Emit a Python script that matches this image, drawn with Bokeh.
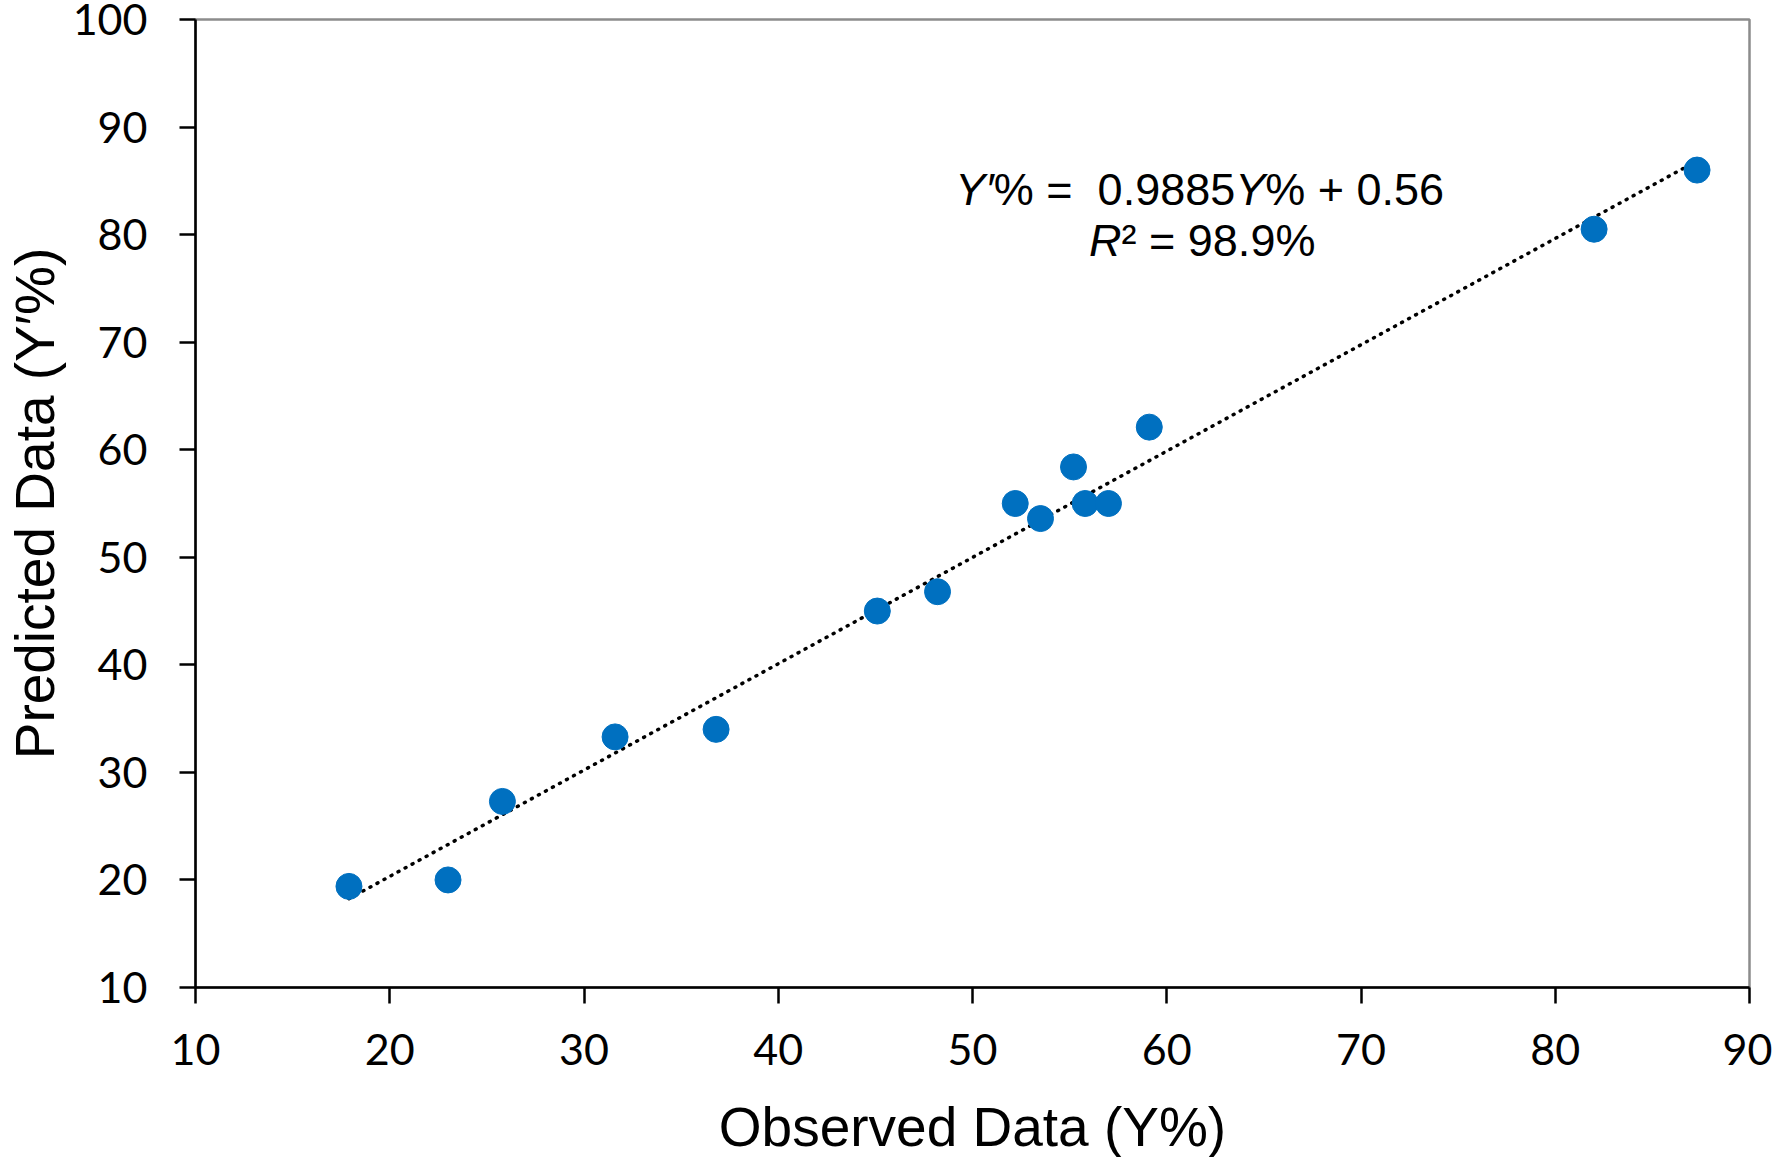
from bokeh.plotting import figure
from bokeh.models import Label, Range1d, FixedTicker, ColumnDataSource
from bokeh.embed import file_html
from bokeh.resources import INLINE

# ---- data ----
observed = [17.9, 23.0, 25.8, 31.6, 36.8, 45.1, 48.2, 52.2, 53.5, 55.2, 55.8, 57.0, 59.1, 82.0, 87.3]
predicted = [19.4, 20.0, 27.3, 33.3, 34.0, 45.0, 46.8, 55.0, 53.6, 58.4, 55.0, 55.0, 62.1, 80.5, 86.0]
fit_slope = 0.9885
fit_intercept = 0.56
x_ticks = [10, 20, 30, 40, 50, 60, 70, 80, 90]
y_ticks = [10, 20, 30, 40, 50, 60, 70, 80, 90, 100]
x_title = "Observed Data (Y%)"
y_title = "Predicted Data (Y\u2032%)"

p = figure(width=1772, height=1185, output_backend="svg", toolbar_location=None,
           x_range=Range1d(10, 90), y_range=Range1d(10, 100),
           min_border_left=194, min_border_right=23, min_border_top=19, min_border_bottom=198)
p.background_fill_color = "white"
p.border_fill_color = "white"
p.outline_line_color = "#8c8c8c"
p.outline_line_width = 2.5
p.xgrid.visible = False
p.ygrid.visible = False

for ax, ticks in ((p.xaxis, x_ticks), (p.yaxis, y_ticks)):
    ax.ticker = FixedTicker(ticks=ticks)
    ax.axis_line_color = "black"
    ax.axis_line_width = 2.5
    ax.major_tick_line_color = "black"
    ax.major_tick_line_width = 2.5
    ax.major_tick_out = 16
    ax.major_tick_in = 0
    ax.minor_tick_line_color = None
    ax.major_label_text_font = "Lato"
    ax.major_label_text_font_size = "43px"
    ax.major_label_text_color = "black"
    ax.axis_label_text_font = "Liberation Sans"
    ax.axis_label_text_font_size = "55px"
    ax.axis_label_text_font_style = "normal"
    ax.axis_label_text_color = "black"
p.xaxis.major_label_standoff = 30
p.yaxis.major_label_standoff = 32
p.xaxis.axis_label = x_title
p.yaxis.axis_label = y_title
p.xaxis.axis_label_standoff = 28
p.yaxis.axis_label_standoff = 4

# trend line from the stated fit
x0, x1 = min(observed), max(observed)
p.line([x0, x1], [fit_slope * x0 + fit_intercept, fit_slope * x1 + fit_intercept],
       line_color="black", line_width=3.5, line_dash="1 7", line_cap="round")

src = ColumnDataSource(dict(x=observed, y=predicted))
p.scatter("x", "y", source=src, size=26, fill_color="#0070C0", line_color="#0070C0", line_width=1)

# equation annotation (mixed italic)
fs = "45px"
def piece(x, y, off, txt, italic):
    p.add_layout(Label(x=x, y=y, x_offset=off, text=txt, text_align="left",
                       text_baseline="alphabetic", text_font="Liberation Sans",
                       text_font_size=fs, text_font_style="italic" if italic else "normal",
                       text_color="black"))

ex, ey = 49.11, 84.2
piece(ex, ey, 0, "Y\u2032", True)
piece(ex, ey, 38.6, "% =", False)
piece(ex, ey, 142.4, "0.9885", False)
piece(ex, ey, 280, "Y", True)
piece(ex, ey, 310, "% + 0.56", False)
rx, ry = 56.0, 79.45
piece(rx, ry, 0, "R", True)
piece(rx, ry, 32.5, "\u00b2 = 98.9%", False)

open("out.html", "w").write(file_html(p, INLINE))
